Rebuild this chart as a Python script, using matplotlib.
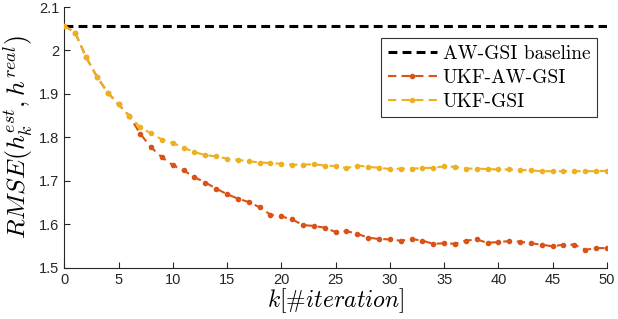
import matplotlib
matplotlib.use("Agg")
import matplotlib.pyplot as plt

plt.rcParams.update({
    "font.family": "Liberation Sans",
    "mathtext.fontset": "cm",
    "axes.unicode_minus": False,
})

RED = "#D95319"
YELLOW = "#EDB120"

k = list(range(51))
baseline = 2.057
ukf_aw_gsi = [2.057, 2.041, 1.985, 1.940, 1.903, 1.876, 1.849, 1.808, 1.777, 1.754,
              1.736, 1.724, 1.708, 1.696, 1.682, 1.669, 1.659, 1.651, 1.639, 1.622,
              1.618, 1.611, 1.598, 1.596, 1.592, 1.582, 1.584, 1.578, 1.569, 1.566,
              1.565, 1.562, 1.566, 1.562, 1.555, 1.556, 1.555, 1.562, 1.565, 1.557,
              1.559, 1.561, 1.560, 1.556, 1.553, 1.549, 1.553, 1.553, 1.541, 1.545,
              1.545]
ukf_gsi = [2.057, 2.041, 1.985, 1.940, 1.903, 1.876, 1.849, 1.823, 1.809, 1.795,
           1.787, 1.776, 1.766, 1.759, 1.756, 1.751, 1.748, 1.745, 1.742, 1.741,
           1.739, 1.737, 1.737, 1.738, 1.735, 1.734, 1.729, 1.735, 1.732, 1.730,
           1.727, 1.728, 1.728, 1.729, 1.730, 1.733, 1.732, 1.728, 1.728, 1.727,
           1.726, 1.726, 1.725, 1.724, 1.722, 1.722, 1.722, 1.722, 1.722, 1.722,
           1.723]

fig = plt.figure(figsize=(6.18, 3.19), dpi=100)
ax = fig.add_axes([0.104, 0.161, 0.878, 0.817])

ax.plot([k[0], k[-1]], [baseline, baseline], color="black", lw=2.2,
        ls=(0, (2.9, 1.7)), label="AW-GSI baseline", zorder=2)
ax.plot(k, ukf_aw_gsi, color=RED, lw=1.5, ls=(0, (4, 2.5)), marker=".",
        ms=6, label="UKF-AW-GSI", zorder=3)
ax.plot(k, ukf_gsi, color=YELLOW, lw=1.5, ls=(0, (4, 2.5)), marker=".",
        ms=6, label="UKF-GSI", zorder=4)

ax.set_xlim(0, 50)
ax.set_ylim(1.5, 2.1)
ax.set_xticks(range(0, 51, 5))
ax.set_yticks([1.5, 1.6, 1.7, 1.8, 1.9, 2.0, 2.1])
ax.set_yticklabels(["1.5", "1.6", "1.7", "1.8", "1.9", "2", "2.1"])
ax.tick_params(direction="in", length=4, labelsize=10.5, colors="#262626",
               labelcolor="#262626")
for s in ("top", "right"):
    ax.spines[s].set_visible(False)
for s in ("left", "bottom"):
    ax.spines[s].set_color("#262626")

ax.set_xlabel(r"$k[$#$iteration]$", fontsize=17, labelpad=0, family="cmr10")
ax.set_ylabel(r"$RMSE(h_k^{est}, h^{real})$", fontsize=18.5, labelpad=2)

leg = ax.legend(loc="upper right", prop={"family": "cmr10", "size": 14},
                frameon=True, fancybox=False, edgecolor="black",
                borderpad=0.35, labelspacing=0.3, handlelength=2.5,
                handletextpad=0.3, borderaxespad=0,
                bbox_to_anchor=(0.9816, 0.88))
leg.get_frame().set_linewidth(0.8)

fig.savefig("out.png", dpi=100)
